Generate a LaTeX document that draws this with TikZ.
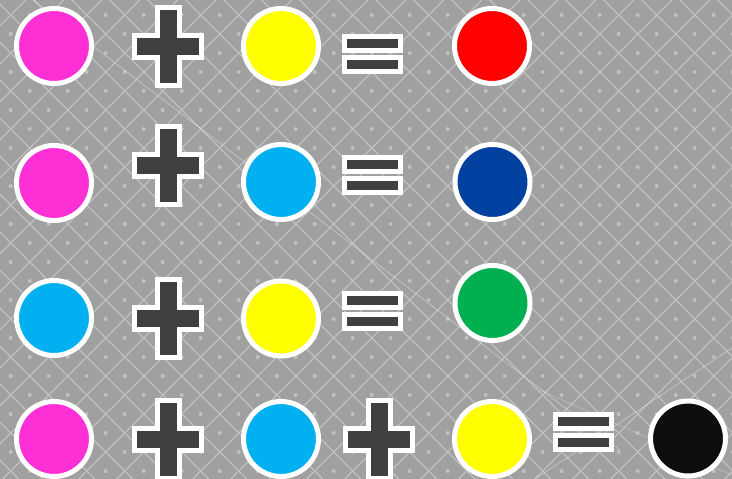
\documentclass[tikz,border=0pt]{standalone}
\definecolor{bggray}{RGB}{160,160,160}
\definecolor{latgray}{RGB}{192,192,192}
\definecolor{signgray}{RGB}{64,64,64}
\definecolor{magentac}{RGB}{255,47,214}
\definecolor{yellowc}{RGB}{255,255,0}
\definecolor{cyanc}{RGB}{0,176,240}
\definecolor{redc}{RGB}{255,0,0}
\definecolor{bluec}{RGB}{0,65,160}
\definecolor{greenc}{RGB}{0,176,80}
\definecolor{blackc}{RGB}{13,13,13}
\tikzset{
  ball/.style={circle, draw=white, line width=5pt, minimum size=75pt, inner sep=0pt},
  plussign/.pic={\draw[white, line width=5pt, fill=signgray]
      (-11,-39) -- (11,-39) -- (11,-11) -- (33.5,-11) -- (33.5,11) -- (11,11) -- (11,39)
      -- (-11,39) -- (-11,11) -- (-33.5,11) -- (-33.5,-11) -- (-11,-11) -- cycle;},
  equalsign/.pic={\draw[white, line width=5pt, fill=signgray] (-28,-17.5) rectangle (28,-3.5);
      \draw[white, line width=5pt, fill=signgray] (-28,3.5) rectangle (28,17.5);}
}
\begin{document}
\begin{tikzpicture}[x=1pt, y=-1pt]
    % background with lattice
    \fill[bggray] (0,0) rectangle (732,479);
    \useasboundingbox (0,0) rectangle (732,479);
    \begin{scope}
        \clip (0,0) rectangle (732,479);
        \foreach \k in {-13,...,18} \draw[latgray, line width=1.3pt] ({33.7+38*\k},0) -- ({512.7+38*\k},479);
        \foreach \k in {0,...,31} \draw[latgray, line width=1.3pt] ({25.7+38*\k},0) -- ({-453.3+38*\k},479);
        \foreach \i in {0,...,19} {
            \foreach \j in {0,...,13} {
                \fill[latgray] ({10.7+38*\i},{-4+38*\j}) circle (2pt);
                \fill[latgray] ({29.7+38*\i},{15+38*\j}) circle (2pt);
            }
        }
        \draw[white, opacity=0.4, line width=0.7pt] (33,0) -- (620,450);
        \draw[white, opacity=0.4, line width=0.7pt] (732,348) -- (520,489);
        \draw[white, opacity=0.3, line width=0.6pt] (540,390) -- (732,475);
    \end{scope}
    % row 1
    \node[ball, fill=magentac] (m1) at (54,46) {};
    \pic (p1) at (168,46.5) {plussign};
    \node[ball, fill=yellowc] (y1) at (281,46) {};
    \pic (e1) at (372.5,53.5) {equalsign};
    \node[ball, fill=redc] (r1) at (492,46) {};
    % row 2
    \node[ball, fill=magentac] (m2) at (54,183) {};
    \pic (p2) at (168,165.5) {plussign};
    \node[ball, fill=cyanc] (c2) at (281,182) {};
    \pic (e2) at (372.5,175) {equalsign};
    \node[ball, fill=bluec] (b2) at (492.5,182) {};
    % row 3
    \node[ball, fill=cyanc] (c3) at (54,318) {};
    \pic (p3) at (168,318.5) {plussign};
    \node[ball, fill=yellowc] (y3) at (281,318.5) {};
    \pic (e3) at (372.5,311) {equalsign};
    \node[ball, fill=greenc] (g3) at (492.5,303) {};
    % row 4
    \node[ball, fill=magentac] (m4) at (54,439) {};
    \pic (p4) at (168,439) {plussign};
    \node[ball, fill=cyanc] (c4) at (281,439) {};
    \pic (q4) at (379,439) {plussign};
    \node[ball, fill=yellowc] (y4) at (492,439) {};
    \pic (e4) at (583.5,432) {equalsign};
    \node[ball, fill=blackc] (k4) at (688,438.5) {};
\end{tikzpicture}
\end{document}
